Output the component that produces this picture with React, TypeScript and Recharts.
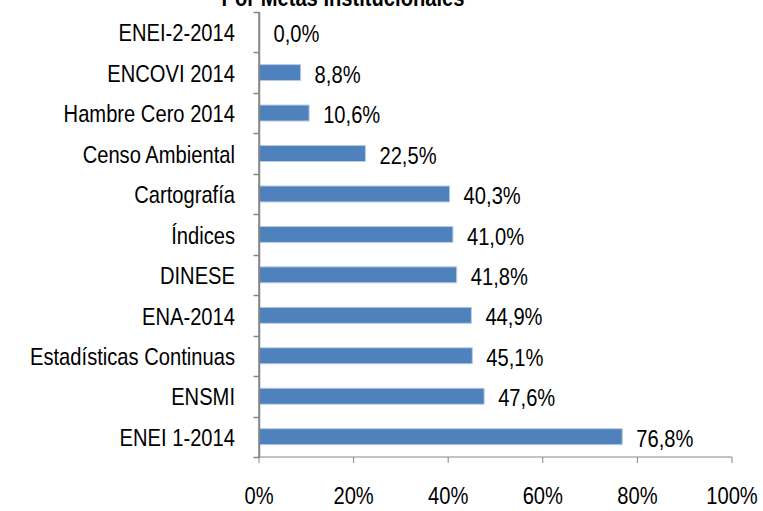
import React from "react";
import { BarChart, Bar, XAxis, YAxis, ReferenceLine } from "recharts";

// ── Data ───────────────────────────────────────────────────────────────────
const metas = [
  "ENEI-2-2014",
  "ENCOVI 2014",
  "Hambre Cero 2014",
  "Censo Ambiental",
  "Cartografía",
  "Índices",
  "DINESE",
  "ENA-2014",
  "Estadísticas Continuas",
  "ENSMI",
  "ENEI 1-2014",
];
const avance = [0.0, 8.8, 10.6, 22.5, 40.3, 41.0, 41.8, 44.9, 45.1, 47.6, 76.8];
const xTicks = [0, 20, 40, 60, 80, 100];

const data = metas.map((meta, i) => ({ meta, avance: avance[i] }));

// ── Style tokens ───────────────────────────────────────────────────────────
// Arial Narrow look-alike: Liberation Sans squeezed horizontally
const FONT = "'Liberation Sans', Arial, sans-serif";
const FS = 24;
const SQ = 0.84;
const BLUE = "#4F81BD";
const AXIS = "#868686";
const LABEL_GAP = 14;

const fmtPct = (v: any) => `${Number(v).toFixed(1).replace(".", ",")}%`;

const Narrow = ({ x, y, anchor, children }: any) => (
  <text
    transform={`translate(${x} ${y}) scale(${SQ} 1)`}
    textAnchor={anchor}
    dominantBaseline="central"
    fontFamily={FONT}
    fontSize={FS}
    fill="#000"
  >
    {children}
  </text>
);

// category tick: label at band centre, tick marks on band edges
const YTick = (props: any) => {
  const { x, y, payload, index, visibleTicksCount } = props;
  const half = payload.offset || 20;
  const ax = Math.round(x + 24) + 0.5;
  const top = Math.round(y - half) + 0.5;
  const bot = Math.round(y + half) + 0.5;
  const last = index === visibleTicksCount - 1;
  const v = avance[index];
  return (
    <g>
      <line x1={ax} x2={ax} y1={top} y2={bot} stroke={AXIS} strokeWidth={1.5} />
      <line x1={ax - 6} x2={ax} y1={top} y2={top} stroke={AXIS} strokeWidth={1.5} />
      {last && <line x1={ax - 6} x2={ax} y1={bot} y2={bot} stroke={AXIS} strokeWidth={1.5} />}
      <Narrow x={x} y={y + 1} anchor="end">{payload.value}</Narrow>
      {/* zero-width bars get no label from the Bar itself */}
      {v === 0 && <Narrow x={ax + LABEL_GAP} y={y + 2} anchor="start">{fmtPct(v)}</Narrow>}
    </g>
  );
};

const XTick = (props: any) => {
  const { x, y, payload } = props;
  return <Narrow x={x} y={y + 15} anchor="middle">{`${payload.value}%`}</Narrow>;
};

const ValueLabel = (props: any) => {
  const { x, y, width, height, value } = props;
  if (!value) return null;
  return <Narrow x={x + width + LABEL_GAP} y={y + height / 2 + 2} anchor="start">{fmtPct(value)}</Narrow>;
};

export default function App() {
  return (
    <div style={{ position: "absolute", left: 0, top: 0, width: 763, height: 511, background: "#fff", overflow: "hidden" }}>
      <BarChart
        width={763}
        height={511}
        data={data}
        layout="vertical"
        margin={{ top: 12, right: 31, left: 0, bottom: 0 }}
        barCategoryGap="30%"
      >
        <XAxis
          type="number"
          domain={[0, 100]}
          ticks={xTicks}
          tick={<XTick />}
          stroke={AXIS}
          tickSize={6}
          tickMargin={18}
          height={54}
          interval={0}
        />
        <YAxis
          type="category"
          dataKey="meta"
          width={259}
          tick={<YTick />}
          axisLine={false}
          tickLine={false}
          tickSize={0}
          tickMargin={24}
          interval={0}
        />
        <Bar
          dataKey="avance"
          fill={BLUE}
          stroke="#B9CDE5"
          strokeWidth={1}
          label={<ValueLabel />}
          isAnimationActive={false}
        />
        <ReferenceLine x={0} stroke={AXIS} strokeWidth={1.5} ifOverflow="visible" />
      </BarChart>
      <svg width={763} height={24} style={{ position: "absolute", left: 0, top: 0, pointerEvents: "none" }}>
        <text
          transform={`translate(343 5.5) scale(${SQ} 1)`}
          textAnchor="middle"
          fontFamily={FONT}
          fontWeight="bold"
          fontSize={FS}
          fill="#000"
        >
          Por Metas Institucionales
        </text>
      </svg>
    </div>
  );
}
